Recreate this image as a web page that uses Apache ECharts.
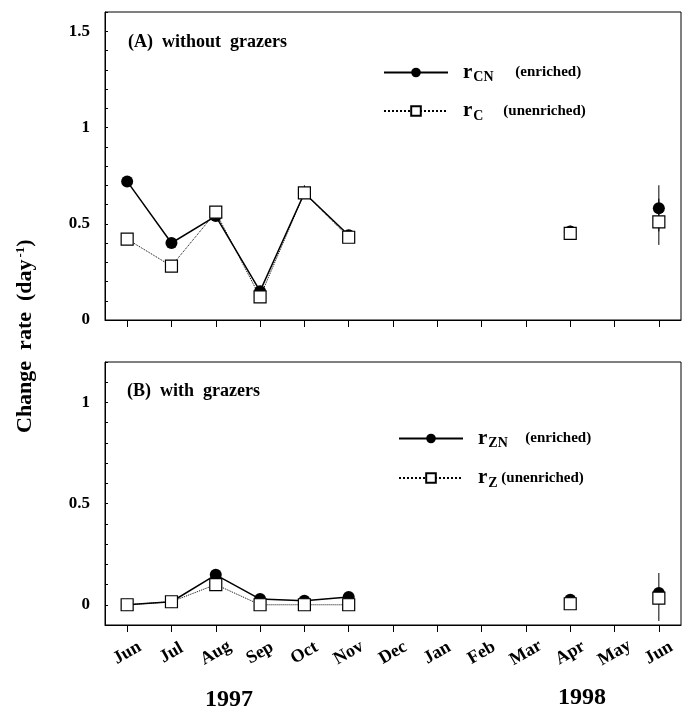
<!DOCTYPE html>
<html>
<head>
<meta charset="utf-8">
<script src="https://cdn.jsdelivr.net/npm/echarts@6/dist/echarts.min.js"></script>
<style>
  html, body { margin: 0; padding: 0; background: #fff; }
  #main { width: 684px; height: 708px; }
</style>
</head>
<body>
<div id="main"></div>
<script>
// 月份 (1997年6月 - 1998年6月)
const months = ['Jun', 'Jul', 'Aug', 'Sep', 'Oct', 'Nov', 'Dec', 'Jan', 'Feb', 'Mar', 'Apr', 'May', 'Jun ']

// (A) without grazers
const rCN = [0.72, 0.40, 0.54, 0.15, 0.66, 0.44, null, null, null, null, 0.46, null, 0.58]
const rC = [0.42, 0.28, 0.56, 0.12, 0.66, 0.43, null, null, null, null, 0.45, null, 0.51]
// 误差线 [月份序号, 下限, 上限]
const errA = [[4, 0.63, 0.70], [10, 0.43, 0.49], [12, 0.46, 0.70], [12, 0.39, 0.63]]

// (B) with grazers
const rZN = [0.0, 0.015, 0.148, 0.028, 0.02, 0.038, null, null, null, null, 0.025, null, 0.058]
const rZ = [0.0, 0.015, 0.10, 0.0, 0.0, 0.0, null, null, null, null, 0.005, null, 0.033]
const errB = [[4, -0.02, 0.02], [10, 0.0, 0.03], [12, -0.08, 0.157]]

const serif = 'Liberation Serif'

function errSeries(data, idx) {
  return {
    type: 'custom',
    xAxisIndex: idx,
    yAxisIndex: idx,
    data: data,
    z: 1,
    renderItem: function (params, api) {
      const lo = api.coord([api.value(0), api.value(1)])
      const hi = api.coord([api.value(0), api.value(2)])
      return {
        type: 'line',
        shape: { x1: lo[0], y1: lo[1], x2: hi[0], y2: hi[1] },
        style: { stroke: '#000', lineWidth: 1 }
      }
    }
  }
}

function lineSeries(name, data, idx, filled) {
  return {
    name: name,
    type: 'line',
    xAxisIndex: idx,
    yAxisIndex: idx,
    data: data,
    connectNulls: false,
    symbol: filled ? 'circle' : 'rect',
    symbolSize: 12,
    z: filled ? 2 : 3,
    lineStyle: {
      color: '#000',
      width: filled ? 1.5 : 1,
      type: filled ? 'solid' : 'dotted'
    },
    itemStyle: {
      color: filled ? '#000' : '#fff',
      borderColor: '#000',
      borderWidth: filled ? 0 : 1.2
    },
    emphasis: { disabled: true }
  }
}

function yAxis(idx, min, max) {
  return {
    type: 'value',
    gridIndex: idx,
    min: min,
    max: max,
    interval: 0.1,
    splitLine: { show: false },
    axisLine: { show: true, onZero: false, lineStyle: { color: '#000', width: 1 } },
    axisTick: { show: true, inside: true, length: 3, lineStyle: { color: '#000' } },
    axisLabel: {
      color: '#000',
      fontFamily: serif,
      fontWeight: 'bold',
      fontSize: 17,
      margin: 15,
      formatter: function (v) {
        // 只显示 0, 0.5, 1, 1.5
        if (Math.abs(v * 2 - Math.round(v * 2)) < 1e-6) {
          return String(Math.round(v * 2) / 2)
        }
        return ''
      }
    }
  }
}

function xAxis(idx, showLabel) {
  return {
    type: 'category',
    gridIndex: idx,
    data: months,
    boundaryGap: true,
    axisLine: { show: true, onZero: false, lineStyle: { color: '#000', width: 1 } },
    axisTick: { show: true, alignWithLabel: true, length: 7, lineStyle: { color: '#000' } },
    axisLabel: {
      show: showLabel,
      interval: 0,
      rotate: 30,
      margin: 28,
      align: 'center',
      verticalAlign: 'middle',
      color: '#000',
      fontFamily: serif,
      fontWeight: 'bold',
      fontSize: 18,
      formatter: function (v) { return v.trim() }
    },
    splitLine: { show: false }
  }
}

// 图例文字 (下标用较小字号)
const legendRich = {
  r: { fontFamily: serif, fontWeight: 'bold', fontSize: 21, color: '#000', padding: [0, 0, 0, 10] },
  CN: { fontFamily: serif, fontWeight: 'bold', fontSize: 14, color: '#000', padding: [10, 0, 0, 1], width: 42 },
  C: { fontFamily: serif, fontWeight: 'bold', fontSize: 14, color: '#000', padding: [10, 0, 0, 1], width: 30 },
  ZN: { fontFamily: serif, fontWeight: 'bold', fontSize: 14, color: '#000', padding: [10, 0, 0, 1], width: 37 },
  Z: { fontFamily: serif, fontWeight: 'bold', fontSize: 14, color: '#000', padding: [10, 0, 0, 1], width: 13 },
  t: { fontFamily: serif, fontWeight: 'bold', fontSize: 15, color: '#000' }
}
const legendText = {
  rCN: '{r|r}{CN|CN}{t|(enriched)}',
  rC: '{r|r}{C|C}{t|(unenriched)}',
  rZN: '{r|r}{ZN|ZN}{t|(enriched)}',
  rZ: '{r|r}{Z|Z}{t|(unenriched)}'
}

const option = {
  animation: false,
  backgroundColor: '#fff',
  grid: [
    { left: 105, top: 12, width: 576, height: 308, show: true, borderColor: '#000', borderWidth: 1 },
    { left: 105, top: 362, width: 576, height: 263, show: true, borderColor: '#000', borderWidth: 1 }
  ],
  xAxis: [xAxis(0, false), xAxis(1, true)],
  yAxis: [yAxis(0, 0, 1.6), yAxis(1, -0.1, 1.2)],
  legend: [
    {
      data: ['rCN', 'rC'],
      left: 378,
      top: 57,
      orient: 'vertical',
      itemWidth: 64,
      itemHeight: 12,
      itemGap: 16,
      selectedMode: false,
      formatter: function (n) { return legendText[n] },
      textStyle: { rich: legendRich }
    },
    {
      data: ['rZN', 'rZ'],
      left: 393,
      top: 423,
      orient: 'vertical',
      itemWidth: 64,
      itemHeight: 12,
      itemGap: 17,
      selectedMode: false,
      formatter: function (n) { return legendText[n] },
      textStyle: { rich: legendRich }
    }
  ],
  graphic: [
    {
      type: 'text', left: 128, top: 33,
      style: { text: '(A)  without  grazers', font: 'bold 18px "Liberation Serif"', fill: '#000' }
    },
    {
      type: 'text', left: 127, top: 382,
      style: { text: '(B)  with  grazers', font: 'bold 18px "Liberation Serif"', fill: '#000' }
    },
    {
      // 纵轴标题, 自下而上
      type: 'text', x: 14, y: 433, rotation: Math.PI / 2,
      style: {
        text: '{a|Change  rate  (day}{b|-1}{a|)}',
        rich: {
          a: { font: 'bold 22px "Liberation Serif"', fill: '#000' },
          b: { font: 'bold 13px "Liberation Serif"', fill: '#000', padding: [0, 0, 10, 2] }
        }
      }
    },
    {
      type: 'text', left: 205, top: 688,
      style: { text: '1997', font: 'bold 24px "Liberation Serif"', fill: '#000' }
    },
    {
      type: 'text', left: 558, top: 686,
      style: { text: '1998', font: 'bold 24px "Liberation Serif"', fill: '#000' }
    }
  ],
  series: [
    errSeries(errA, 0),
    lineSeries('rCN', rCN, 0, true),
    lineSeries('rC', rC, 0, false),
    errSeries(errB, 1),
    lineSeries('rZN', rZN, 1, true),
    lineSeries('rZ', rZ, 1, false)
  ]
}

const myChart = echarts.init(document.getElementById('main'))
myChart.setOption(option, true)
</script>
</body>
</html>
